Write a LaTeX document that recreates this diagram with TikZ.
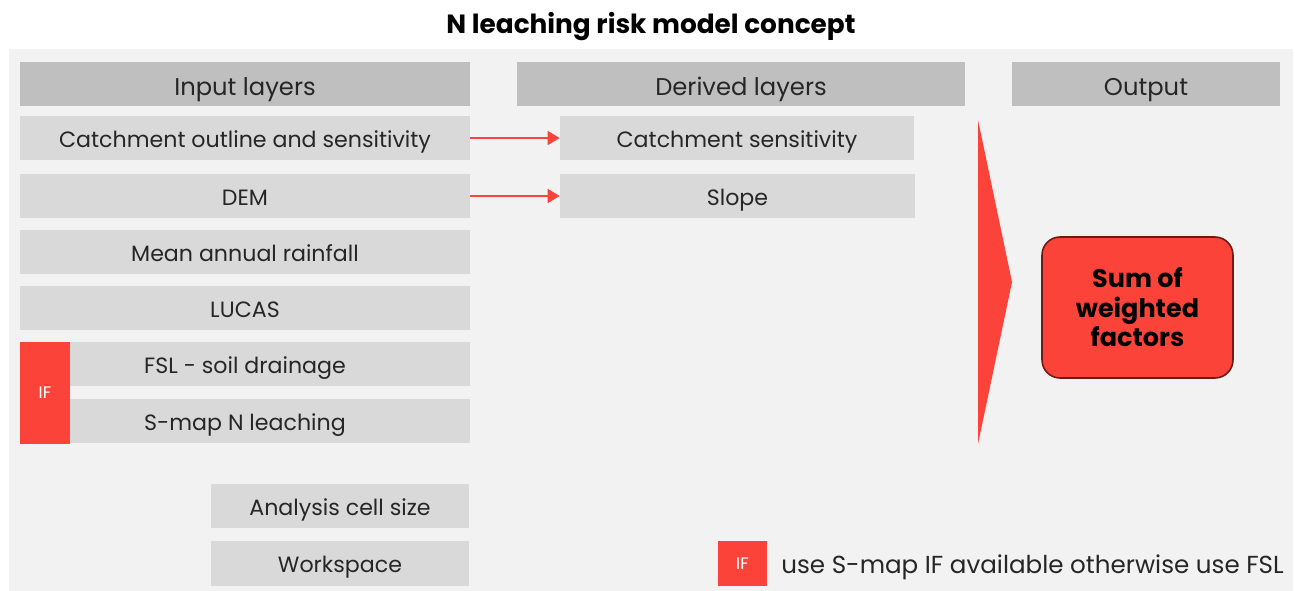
\documentclass[tikz,border=0pt]{standalone}
\usepackage{fontspec}
\setmainfont{Poppins}
\usetikzlibrary{%
	arrows.meta,%
	positioning
}
\definecolor{panelgray}{HTML}{F2F2F2}
\definecolor{headgray}{HTML}{BFBFBF}
\definecolor{boxgray}{HTML}{D9D9D9}
\definecolor{ifred}{HTML}{FC433A}
\definecolor{darkred}{HTML}{6E1A15}
\definecolor{txtgray}{HTML}{262626}

\begin{document}
\begin{tikzpicture}[x=0.02cm,y=-0.02cm,
	header/.style={fill=headgray,inner sep=0pt,minimum height=0.88cm,
		text height=14pt,text depth=0.4pt,
		text=txtgray,font=\fontsize{13.8}{16}\selectfont},
	layer/.style={fill=boxgray,inner sep=0pt,minimum height=0.88cm,
		text height=12pt,text depth=1.5pt,
		text=txtgray,font=\fontsize{12.6}{15}\selectfont},
	ifbox/.style={fill=ifred,inner sep=0pt,text=white,
		font=\fontsize{9.5}{11}\selectfont},
	link/.style={ifred,line width=0.85pt,-{Triangle[length=0.24cm,width=0.28cm]}}
	]
	% Page and panel
	\useasboundingbox (0,0) rectangle (1295,591);
	\fill[white] (0,0) rectangle (1295,591);
	\fill[panelgray] (9,49) rectangle (1293,591);
	\node[anchor=base,font=\bfseries\fontsize{15}{18}\selectfont] (title) at (651,34) {N leaching risk model concept};

	% Column headers
	\node[header,minimum width=9cm] (inhead) at (245,84) {Input layers};
	\node[header,minimum width=8.96cm] (derhead) at (741,84) {Derived layers};
	\node[header,minimum width=5.36cm] (outhead) at (1146,84) {Output};

	% Input layers
	\node[layer,minimum width=9cm] (catch) at (245,138) {Catchment outline and sensitivity};
	\node[layer,minimum width=9cm] (dem) at (245,196) {DEM};
	\node[layer,minimum width=9cm] (rain) at (245,252) {Mean annual rainfall};
	\node[layer,minimum width=9cm] (lucas) at (245,308) {LUCAS};
	\node[layer,minimum width=9cm] (fsl) at (245,364) {FSL - soil drainage};
	\node[layer,minimum width=9cm] (smap) at (245,421) {S-map N leaching};
	\node[ifbox,minimum width=1cm,minimum height=2.04cm] (ifin) at (45,393) {IF};
	\node[layer,minimum width=5.16cm] (cell) at (340,506) {Analysis cell size};
	\node[layer,minimum width=5.16cm,minimum height=0.9cm] (work) at (340,563.5) {Workspace};

	% Derived layers
	\node[layer,minimum width=7.08cm] (catchsens) at (737,138) {Catchment sensitivity};
	\node[layer,minimum width=7.1cm] (slope) at (737.5,196) {Slope};
	\draw[link] (catch.east) -- (catchsens.west);
	\draw[link] (dem.east) -- (slope.west);

	% Chevron and output
	\fill[ifred] (978,120) -- (1012,282) -- (978,444) -- cycle;
	\node[fill=ifred,draw=darkred,line width=0.9pt,rounded corners=0.36cm,
		minimum width=3.82cm,minimum height=2.82cm,align=center,
		font=\bfseries\fontsize{14.5}{16.8}\selectfont] (sum) at (1137.5,307.5) {Sum of\\weighted\\factors};

	% Legend
	\node[ifbox,minimum width=0.98cm,minimum height=0.9cm] (ifkey) at (742.5,563.5) {IF};
	\node[anchor=base west,inner sep=0pt,text=txtgray,font=\fontsize{14}{16}\selectfont] (keytext) at (781,573) {use S-map IF available otherwise use FSL};
\end{tikzpicture}
\end{document}
